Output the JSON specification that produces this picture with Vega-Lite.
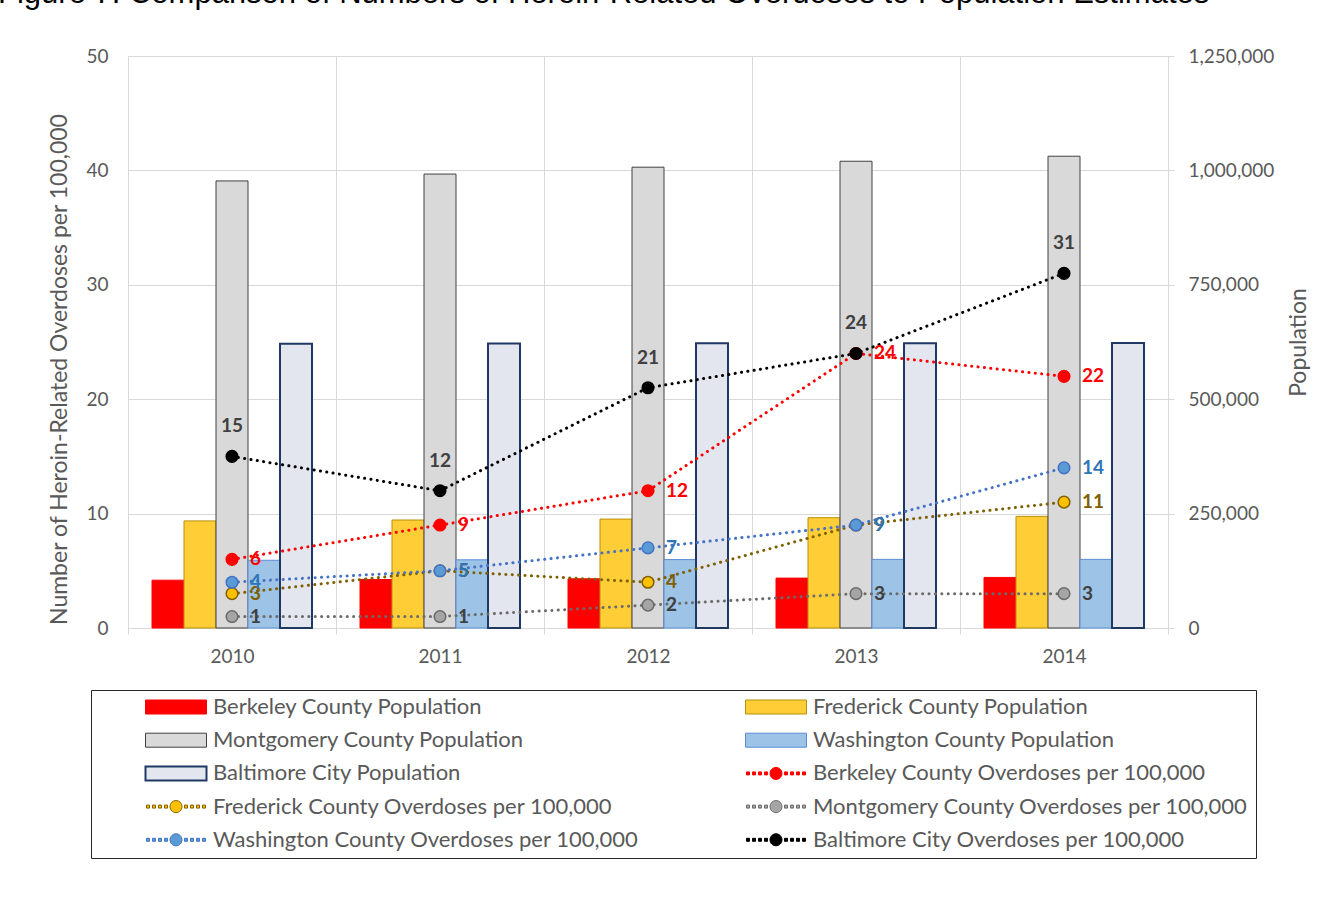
{
  "$schema": "https://vega.github.io/schema/vega-lite/v6.json",
  "width": 1040,
  "height": 572,
  "autosize": "none",
  "padding": {"left": 128, "top": 56, "right": 151, "bottom": 294},
  "background": "white",
  "title": {
    "text": "Figure 7. Comparison of Numbers of Heroin-Related Overdoses to Population Estimates",
    "anchor": "start",
    "frame": "group",
    "offset": 26,
    "dx": -130,
    "dy": 13,
    "font": "Liberation Sans",
    "fontSize": 31,
    "fontWeight": "normal",
    "color": "#000000",
    "baseline": "alphabetic"
  },
  "config": {"view": {"stroke": "#d9d9d9", "strokeWidth": 1}, "font": "Lato"},
  "data": {
    "values": [
      {"year": "2010", "series": "Berkeley County Population", "kind": "pop", "value": 104500},
      {"year": "2011", "series": "Berkeley County Population", "kind": "pop", "value": 106000},
      {"year": "2012", "series": "Berkeley County Population", "kind": "pop", "value": 107500},
      {"year": "2013", "series": "Berkeley County Population", "kind": "pop", "value": 109000},
      {"year": "2014", "series": "Berkeley County Population", "kind": "pop", "value": 110500},
      {"year": "2010", "series": "Frederick County Population", "kind": "pop", "value": 234000},
      {"year": "2011", "series": "Frederick County Population", "kind": "pop", "value": 236000},
      {"year": "2012", "series": "Frederick County Population", "kind": "pop", "value": 238000},
      {"year": "2013", "series": "Frederick County Population", "kind": "pop", "value": 241000},
      {"year": "2014", "series": "Frederick County Population", "kind": "pop", "value": 244000},
      {"year": "2010", "series": "Montgomery County Population", "kind": "pop", "value": 977000},
      {"year": "2011", "series": "Montgomery County Population", "kind": "pop", "value": 992000},
      {"year": "2012", "series": "Montgomery County Population", "kind": "pop", "value": 1007000},
      {"year": "2013", "series": "Montgomery County Population", "kind": "pop", "value": 1020000},
      {"year": "2014", "series": "Montgomery County Population", "kind": "pop", "value": 1031000},
      {"year": "2010", "series": "Washington County Population", "kind": "pop", "value": 148000},
      {"year": "2011", "series": "Washington County Population", "kind": "pop", "value": 149000},
      {"year": "2012", "series": "Washington County Population", "kind": "pop", "value": 149500},
      {"year": "2013", "series": "Washington County Population", "kind": "pop", "value": 150000},
      {"year": "2014", "series": "Washington County Population", "kind": "pop", "value": 150000},
      {"year": "2010", "series": "Baltimore City Population", "kind": "pop", "value": 621000},
      {"year": "2011", "series": "Baltimore City Population", "kind": "pop", "value": 621500},
      {"year": "2012", "series": "Baltimore City Population", "kind": "pop", "value": 622000},
      {"year": "2013", "series": "Baltimore City Population", "kind": "pop", "value": 622500},
      {"year": "2014", "series": "Baltimore City Population", "kind": "pop", "value": 623000},
      {"year": "2010", "series": "Berkeley County Overdoses per 100,000", "kind": "od", "value": 6},
      {"year": "2011", "series": "Berkeley County Overdoses per 100,000", "kind": "od", "value": 9},
      {"year": "2012", "series": "Berkeley County Overdoses per 100,000", "kind": "od", "value": 12},
      {"year": "2013", "series": "Berkeley County Overdoses per 100,000", "kind": "od", "value": 24},
      {"year": "2014", "series": "Berkeley County Overdoses per 100,000", "kind": "od", "value": 22},
      {"year": "2010", "series": "Frederick County Overdoses per 100,000", "kind": "od", "value": 3},
      {"year": "2011", "series": "Frederick County Overdoses per 100,000", "kind": "od", "value": 5},
      {"year": "2012", "series": "Frederick County Overdoses per 100,000", "kind": "od", "value": 4},
      {"year": "2013", "series": "Frederick County Overdoses per 100,000", "kind": "od", "value": 9},
      {"year": "2014", "series": "Frederick County Overdoses per 100,000", "kind": "od", "value": 11},
      {"year": "2010", "series": "Montgomery County Overdoses per 100,000", "kind": "od", "value": 1},
      {"year": "2011", "series": "Montgomery County Overdoses per 100,000", "kind": "od", "value": 1},
      {"year": "2012", "series": "Montgomery County Overdoses per 100,000", "kind": "od", "value": 2},
      {"year": "2013", "series": "Montgomery County Overdoses per 100,000", "kind": "od", "value": 3},
      {"year": "2014", "series": "Montgomery County Overdoses per 100,000", "kind": "od", "value": 3},
      {"year": "2010", "series": "Washington County Overdoses per 100,000", "kind": "od", "value": 4},
      {"year": "2011", "series": "Washington County Overdoses per 100,000", "kind": "od", "value": 5},
      {"year": "2012", "series": "Washington County Overdoses per 100,000", "kind": "od", "value": 7},
      {"year": "2013", "series": "Washington County Overdoses per 100,000", "kind": "od", "value": 9},
      {"year": "2014", "series": "Washington County Overdoses per 100,000", "kind": "od", "value": 14},
      {"year": "2010", "series": "Baltimore City Overdoses per 100,000", "kind": "od", "value": 15},
      {"year": "2011", "series": "Baltimore City Overdoses per 100,000", "kind": "od", "value": 12},
      {"year": "2012", "series": "Baltimore City Overdoses per 100,000", "kind": "od", "value": 21},
      {"year": "2013", "series": "Baltimore City Overdoses per 100,000", "kind": "od", "value": 24},
      {"year": "2014", "series": "Baltimore City Overdoses per 100,000", "kind": "od", "value": 31}
    ]
  },
  "resolve": {"scale": {"y": "independent"}, "axis": {"y": "independent"}},
  "layer": [
    {
      "transform": [{"filter": "datum.kind == 'pop'"}],
      "mark": {"type": "bar"},
      "encoding": {
        "x": {
          "field": "year", "type": "nominal",
          "scale": {"paddingInner": 0, "paddingOuter": 0},
          "axis": {
            "title": null, "labelAngle": 0, "labelFont": "Lato", "labelFontSize": 19,
            "labelColor": "#595959", "labelPadding": 13, "tickBand": "extent",
            "ticks": true, "tickSize": 6, "tickColor": "#d9d9d9", "grid": true,
            "gridColor": "#d9d9d9", "domainColor": "#d9d9d9"
          }
        },
        "xOffset": {
          "field": "series", "type": "nominal",
          "scale": {
            "domain": ["Berkeley County Population", "Frederick County Population", "Montgomery County Population", "Washington County Population", "Baltimore City Population"],
            "paddingInner": 0, "paddingOuter": 0.75
          }
        },
        "y": {
          "field": "value", "type": "quantitative",
          "scale": {"domain": [0, 1250000], "nice": false},
          "axis": {
            "orient": "right", "title": "Population",
            "values": [0, 250000, 500000, 750000, 1000000, 1250000],
            "labelExpr": "format(datum.value, ',')",
            "grid": false, "domain": false, "tickSize": 6, "tickColor": "#d9d9d9",
            "labelPadding": 14, "labelFont": "Lato", "labelFontSize": 19, "labelColor": "#595959",
            "titleFont": "Lato", "titleFontSize": 23, "titleFontWeight": "normal", "titleColor": "#595959",
            "titleAngle": 270, "titleX": 137, "titleY": 286, "titleBaseline": "alphabetic", "titleAlign": "center"
          }
        },
        "fill": {
          "field": "series", "type": "nominal",
          "scale": {
            "domain": ["Berkeley County Population", "Montgomery County Population", "Baltimore City Population", "Frederick County Overdoses per 100,000", "Washington County Overdoses per 100,000", "Frederick County Population", "Washington County Population", "Berkeley County Overdoses per 100,000", "Montgomery County Overdoses per 100,000", "Baltimore City Overdoses per 100,000"],
            "range": ["#FF0000", "#D9D9D9", "#E3E6EE", "#FFC000", "#5B9BD5", "#FFCD35", "#9DC3E6", "#FF0000", "#A5A5A5", "#000000"]
          },
          "legend": {
            "orient": "none", "legendX": -37, "legendY": 634,
            "title": null, "columns": 2, "columnPadding": 59, "rowPadding": 11.2,
            "padding": 7, "strokeColor": "#262626", "fillColor": "white",
            "clipHeight": 20, "symbolSize": 400, "symbolOffset": 67, "labelOffset": 26,
            "labelFont": "Lato", "labelFontSize": 22, "labelColor": "#595959", "labelLimit": 700,
            "encode": {
              "symbols": {
                "update": {
                  "shape": {"signal": "indexof(datum.value, 'Population') >= 0 ? 'M-3.05,-0.7H3.05V0.7H-3.05Z' : 'M-2.95,-0.15h0.3v0.3h-0.3Z M-2.35,-0.15h0.3v0.3h-0.3Z M-1.75,-0.15h0.3v0.3h-0.3Z M-1.15,-0.15h0.3v0.3h-0.3Z M-0.6,0A0.6,0.6 0 1,0 0.6,0A0.6,0.6 0 1,0 -0.6,0Z M0.85,-0.15h0.3v0.3h-0.3Z M1.45,-0.15h0.3v0.3h-0.3Z M2.05,-0.15h0.3v0.3h-0.3Z M2.65,-0.15h0.3v0.3h-0.3Z'"},
                  "stroke": {"signal": "scale('stroke', datum.value)"},
                  "strokeWidth": {"signal": "datum.value == 'Baltimore City Population' ? 2 : 1"},
                  "opacity": {"value": 1}
                }
              }
            }
          }
        },
        "stroke": {
          "field": "series", "type": "nominal",
          "scale": {
            "domain": ["Berkeley County Population", "Montgomery County Population", "Baltimore City Population", "Frederick County Overdoses per 100,000", "Washington County Overdoses per 100,000", "Frederick County Population", "Washington County Population", "Berkeley County Overdoses per 100,000", "Montgomery County Overdoses per 100,000", "Baltimore City Overdoses per 100,000"],
            "range": ["#FF0000", "#404040", "#1F3864", "#7F6000", "#4472C4", "#B8900A", "#5B8ED6", "#FF0000", "#6B6B6B", "#000000"]
          },
          "legend": null
        },
        "strokeWidth": {"condition": {"test": "datum.series == 'Baltimore City Population'", "value": 2}, "value": 1}
      }
    },
    {
      "transform": [{"filter": "datum.kind == 'od'"}],
      "layer": [
        {
          "mark": {"type": "line", "strokeWidth": 3, "strokeDash": [0.1, 6.3], "strokeCap": "round"},
          "encoding": {
            "x": {"field": "year", "type": "nominal"},
            "y": {
              "field": "value", "type": "quantitative",
              "scale": {"domain": [0, 50], "nice": false},
              "axis": {
                "orient": "left", "title": "Number of Heroin-Related Overdoses per 100,000",
                "values": [0, 10, 20, 30, 40, 50], "grid": true, "gridColor": "#d9d9d9",
                "ticks": false, "tickSize": 0, "domain": false, "labelPadding": 20,
                "labelFont": "Lato", "labelFontSize": 19, "labelColor": "#595959",
                "titleFont": "Lato", "titleFontSize": 23, "titleFontWeight": "normal", "titleColor": "#595959",
                "titleAngle": 270, "titleX": -62, "titleY": 313, "titleBaseline": "alphabetic", "titleAlign": "center"
              }
            },
            "stroke": {"field": "series", "type": "nominal", "legend": null}
          }
        },
        {
          "mark": {"type": "point", "filled": true, "size": 135, "strokeWidth": 1.5, "opacity": 1},
          "encoding": {
            "x": {"field": "year", "type": "nominal"},
            "y": {"field": "value", "type": "quantitative"},
            "fill": {"field": "series", "type": "nominal"},
            "stroke": {"field": "series", "type": "nominal", "legend": null}
          }
        },
        {
          "transform": [{"filter": "datum.series != 'Baltimore City Overdoses per 100,000'"}],
          "mark": {"type": "text", "align": "left", "baseline": "middle", "dx": 18, "font": "Lato", "fontSize": 19, "fontWeight": "bold"},
          "encoding": {
            "x": {"field": "year", "type": "nominal"},
            "y": {"field": "value", "type": "quantitative"},
            "text": {"field": "value", "type": "quantitative"},
            "color": {
              "field": "series", "type": "nominal",
              "scale": {
                "domain": ["Berkeley County Overdoses per 100,000", "Frederick County Overdoses per 100,000", "Montgomery County Overdoses per 100,000", "Washington County Overdoses per 100,000", "Baltimore City Overdoses per 100,000"],
                "range": ["#FF0000", "#7F6000", "#404040", "#2E75B6", "#404040"]
              },
              "legend": null
            }
          }
        },
        {
          "transform": [{"filter": "datum.series == 'Baltimore City Overdoses per 100,000'"}],
          "mark": {"type": "text", "align": "center", "baseline": "middle", "dy": -30, "font": "Lato", "fontSize": 19, "fontWeight": "bold"},
          "encoding": {
            "x": {"field": "year", "type": "nominal"},
            "y": {"field": "value", "type": "quantitative"},
            "text": {"field": "value", "type": "quantitative"},
            "color": {"field": "series", "type": "nominal", "legend": null}
          }
        }
      ]
    }
  ]
}
